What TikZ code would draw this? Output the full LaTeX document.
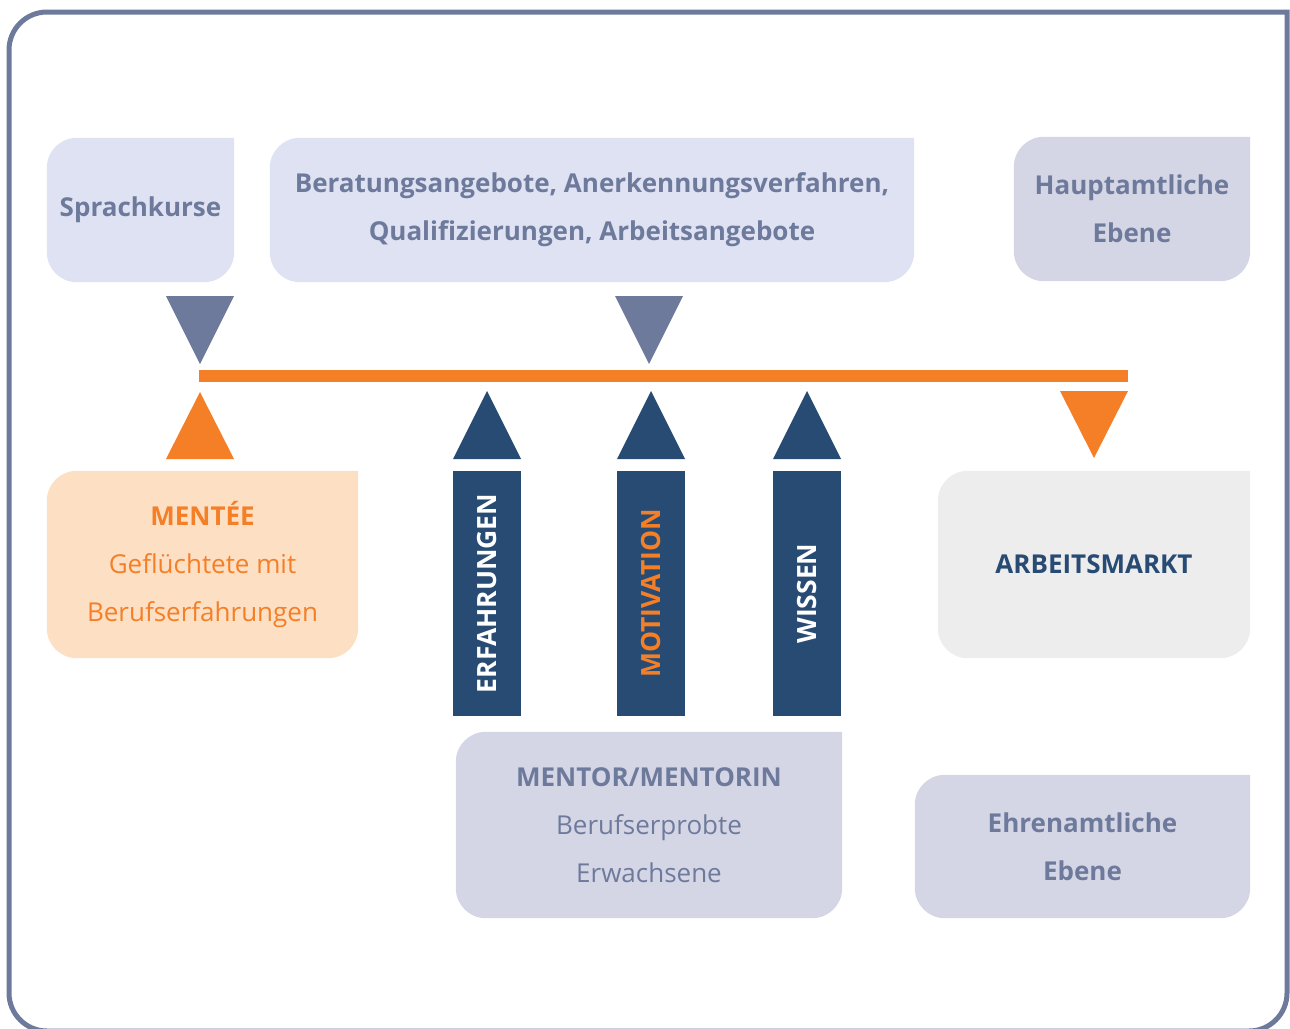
\documentclass[tikz,border=0pt]{standalone}
\usepackage{fontspec}
\setmainfont{Open Sans}
\usetikzlibrary{positioning}
\pgfdeclarelayer{background}
\pgfsetlayers{background,main}

\definecolor{slate}{HTML}{6E7A9B}
\definecolor{navy}{HTML}{284B73}
\definecolor{signal}{HTML}{F47F27}
\definecolor{paleblue}{HTML}{DEE2F3}
\definecolor{palegrey}{HTML}{D4D6E5}
\definecolor{peach}{HTML}{FDDFC4}
\definecolor{mist}{HTML}{EDEDEE}

\tikzset{
  panel/.style={rectangle, inner sep=0pt, align=center, text=slate,
    font=\fontsize{26}{48}\selectfont},
  bar/.style={rectangle, fill=navy, rotate=90, inner sep=0pt,
    minimum width=245pt, minimum height=68pt, text=white,
    font=\bfseries\fontsize{26.5}{30}\selectfont},
  frame/.style={draw=slate, line width=5pt},
}

% fill behind a panel: three round corners, top right square
\newcommand{\panelfill}[2]{%
  \fill[#2] (#1.east) -- (#1.north east) -- (#1.north) [rounded corners=30pt]
    -- (#1.north west) -- (#1.south west) -- (#1.south east) -- cycle;}

\begin{document}
\begin{tikzpicture}[x=1pt,y=-1pt]
				\useasboundingbox (0,0) rectangle (1290,1028);
				%Frame
				\draw[frame] (1287,500) -- (1287,12) -- (600,12) [rounded corners=38pt]
					-- (9,12) -- (9,1031) -- (1287,1031) -- cycle;

				%Nodes
				\node[panel, minimum width=187pt, minimum height=144pt] (sprache) at (140.5,210) {\bfseries Sprachkurse};
				\node[panel, minimum width=644pt, minimum height=144pt] (beratung) at (592,210)
					{\bfseries Beratungsangebote, Anerkennungsverfahren,\\ \bfseries Qualifizierungen, Arbeitsangebote};
				\node[panel, minimum width=236pt, minimum height=144pt] (haupt) at (1132,209)
					{\bfseries Hauptamtliche\\ \bfseries Ebene};
				\node[panel, text=signal, minimum width=311pt, minimum height=187pt] (mentee) at (202.5,564.5)
					{\bfseries MENTÉE\\ Geflüchtete mit\\ Berufserfahrungen};
				\node[panel, text=navy, minimum width=312pt, minimum height=187pt] (markt) at (1094,564.5)
					{\bfseries ARBEITSMARKT};
				\node[panel, minimum width=386pt, minimum height=186pt] (mentor) at (649,825)
					{\bfseries MENTOR/MENTORIN\\ Berufserprobte\\ Erwachsene};
				\node[panel, minimum width=335pt, minimum height=143pt] (ehren) at (1082.5,846.5)
					{\bfseries Ehrenamtliche\\ \bfseries Ebene};

				\node[bar] (erfahrung) at (487,593.5) {ERFAHRUNGEN};
				\node[bar, text=signal] (motivation) at (651,593.5) {MOTIVATION};
				\node[bar] (wissen) at (807,593.5) {WISSEN};

				\begin{pgfonlayer}{background}
				\panelfill{sprache}{paleblue}
				\panelfill{beratung}{paleblue}
				\panelfill{haupt}{palegrey}
				\panelfill{mentee}{peach}
				\panelfill{markt}{mist}
				\panelfill{mentor}{palegrey}
				\panelfill{ehren}{palegrey}
				\end{pgfonlayer}

				%Lines
				\coordinate (l0) at (199,376);
				\coordinate (l1) at (1128,376);
				\draw[signal, line width=12pt] (l0) -- (l1);

				\fill[slate] (166,296) -- (234,296) -- (200,364) -- cycle;
				\fill[slate] (615,296) -- (683,296) -- (649,364) -- cycle;
				\fill[signal] (166,459) -- (234,459) -- (200,392) -- cycle;
				\fill[navy] (453,459) -- (521,459) -- (487,391) -- cycle;
				\fill[navy] (617,459) -- (685,459) -- (651,391) -- cycle;
				\fill[navy] (773,459) -- (841,459) -- (807,391) -- cycle;
				\fill[signal] (1060,391) -- (1128,391) -- (1094,458) -- cycle;

		\end{tikzpicture}
\end{document}
